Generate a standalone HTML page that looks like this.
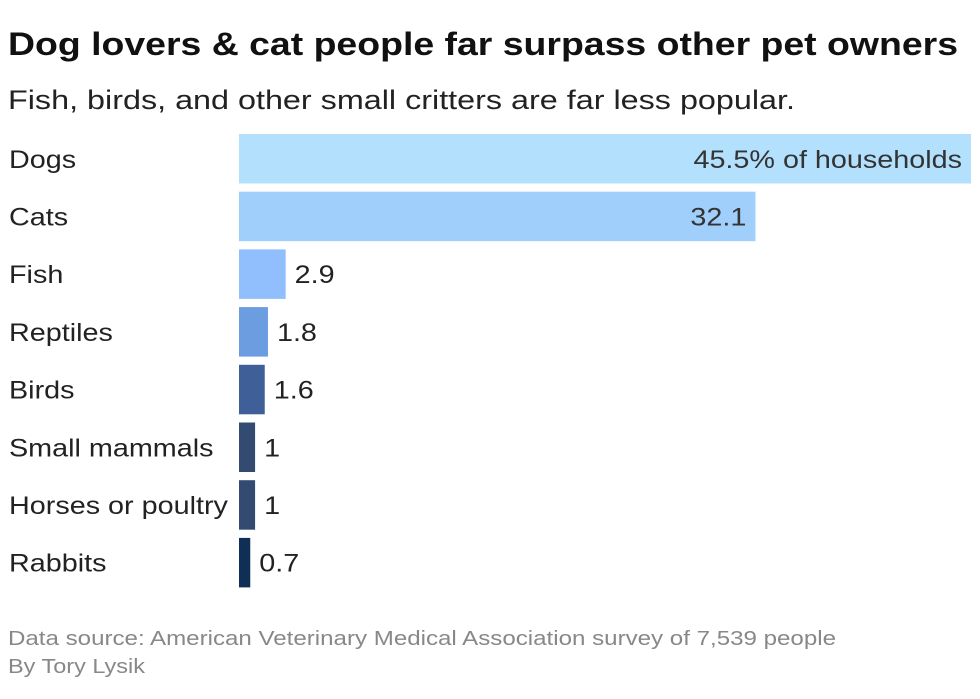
<!DOCTYPE html>
<html><head><meta charset="utf-8"><style>
body{margin:0;background:#fff;font-family:"Liberation Sans",sans-serif;}
#wrap{position:relative;width:980px;height:699px;overflow:hidden;}
</style></head><body>
<div id="wrap">
<svg id="chart" width="980" height="699" style="position:absolute;left:0;top:0" font-family="Liberation Sans, sans-serif">
<text x="8" y="55" font-size="32" font-weight="bold" fill="#111" textLength="950" lengthAdjust="spacingAndGlyphs">Dog lovers &amp; cat people far surpass other pet owners</text>
<text x="8" y="109" font-size="27" fill="#222" textLength="787" lengthAdjust="spacingAndGlyphs">Fish, birds, and other small critters are far less popular.</text>
<text x="8" y="645" font-size="20" fill="#888" textLength="828" lengthAdjust="spacingAndGlyphs">Data source: American Veterinary Medical Association survey of 7,539 people</text>
<text x="8" y="673" font-size="20" fill="#888" textLength="137" lengthAdjust="spacingAndGlyphs">By Tory Lysik</text>
</svg>
</div>
<script>
const categories=["Dogs","Cats","Fish","Reptiles","Birds","Small mammals","Horses or poultry","Rabbits"];
const values=[45.5,32.1,2.9,1.8,1.6,1,1,0.7];
const valueLabels=["45.5% of households","32.1","2.9","1.8","1.6","1","1","0.7"];
const colors=["#b3e0fd","#a0cffc","#91befc","#6b9de0","#3e5f97","#334b71","#334b71","#0f2f57"];
const NS="http://www.w3.org/2000/svg";
const svg=document.getElementById('chart');
const x0=239,x1=971,maxV=45.5;
const xs=v=>(v/maxV)*(x1-x0);
const y0=134,step=57.7,bh=49.5;
const ys=i=>y0+i*step;
function widen(t){const L=t.getComputedTextLength();t.setAttribute('textLength',L*1.15);t.setAttribute('lengthAdjust','spacingAndGlyphs');}
categories.forEach((c,i)=>{
  const y=ys(i),w=xs(values[i]);
  const r=document.createElementNS(NS,'rect');
  r.setAttribute('x',x0);r.setAttribute('y',y);r.setAttribute('width',w);r.setAttribute('height',bh);r.setAttribute('fill',colors[i]);
  
  
  svg.appendChild(r);
  const t=document.createElementNS(NS,'text');
  t.setAttribute('x',9);t.setAttribute('y',y+bh/2+9);t.setAttribute('font-size','25');t.setAttribute('fill','#222');
  t.textContent=c;
  
  
  svg.appendChild(t);widen(t);
  const v=document.createElementNS(NS,'text');
  const inside=w>100;
  v.setAttribute('x',inside?x0+w-9:x0+w+9);
  v.setAttribute('text-anchor',inside?'end':'start');
  v.setAttribute('y',y+bh/2+9);v.setAttribute('font-size','25');v.setAttribute('fill',inside?'#333':'#222');
  v.textContent=valueLabels[i];
  
  
  svg.appendChild(v);widen(v);
});
</script>
</body></html>
